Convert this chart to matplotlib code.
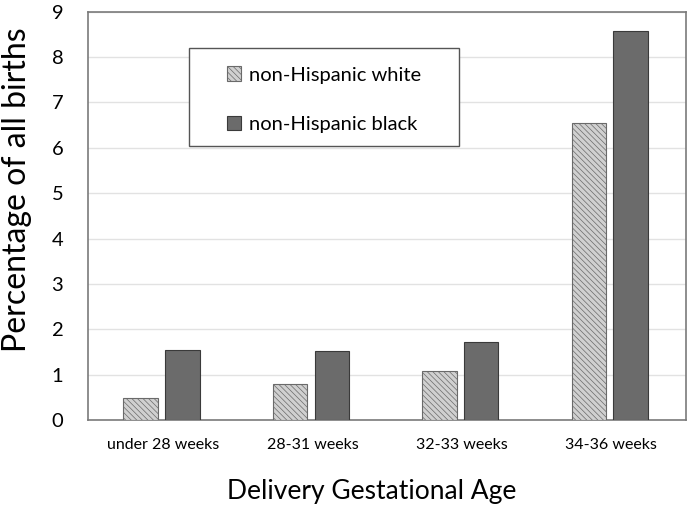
import numpy as np
import matplotlib.pyplot as plt
from matplotlib.patches import Rectangle

plt.rcParams['font.family'] = ['Lato', 'DejaVu Sans']
plt.rcParams['hatch.linewidth'] = 0.5

categories = ['under 28 weeks', '28-31 weeks', '32-33 weeks', '34-36 weeks']
white = [0.49, 0.80, 1.08, 6.55]
black = [1.55, 1.53, 1.73, 8.58]

fig, ax = plt.subplots(figsize=(6.95, 5.11), dpi=100)
fig.subplots_adjust(left=0.127, right=0.987, top=0.977, bottom=0.178)

x = np.arange(len(categories))
w = 0.23
ax.bar(x - 0.15, white, w, facecolor='#d0d0d0', edgecolor='#6a6a6a',
       hatch='\\\\\\\\\\\\', linewidth=0.8, label='non-Hispanic white', zorder=3)
ax.bar(x + 0.13, black, w, facecolor='#6b6b6b', edgecolor='#3a3a3a',
       linewidth=0.8, label='non-Hispanic black', zorder=3)

ax.set_ylim(0, 9)
ax.set_xlim(-0.5, 3.5)
ax.set_yticks(range(10))
ax.set_xticks(x)
ax.set_xticklabels(categories, fontsize=11.5)
ax.tick_params(axis='y', labelsize=14.5, length=0, pad=18)
ax.tick_params(axis='x', length=0, pad=13)
ax.grid(axis='y', color='#e2e2e2', linewidth=1, zorder=0)
for s in ax.spines.values():
    s.set_color('#7a7a7a')
    s.set_linewidth(1.2)

ax.set_ylabel('Percentage of all births', fontsize=23)
ax.yaxis.set_label_coords(-0.094, 0.565)
ax.set_xlabel('Delivery Gestational Age', fontsize=19)
ax.xaxis.set_label_coords(0.475, -0.145)

# legend box drawn separately so it can be wider than its entries
ax.add_patch(Rectangle((0.169, 0.67), 0.451, 0.242, transform=ax.transAxes,
                       facecolor='white', edgecolor='#555555', linewidth=1.0,
                       zorder=4))
leg = ax.legend(loc='upper left', bbox_to_anchor=(0.232, 0.866), fontsize=14.5,
                frameon=False, borderpad=0, labelspacing=1.6, handlelength=0.7,
                handleheight=0.7, handletextpad=0.4, borderaxespad=0)
leg.set_zorder(5)

plt.savefig('out.png', dpi=100)
